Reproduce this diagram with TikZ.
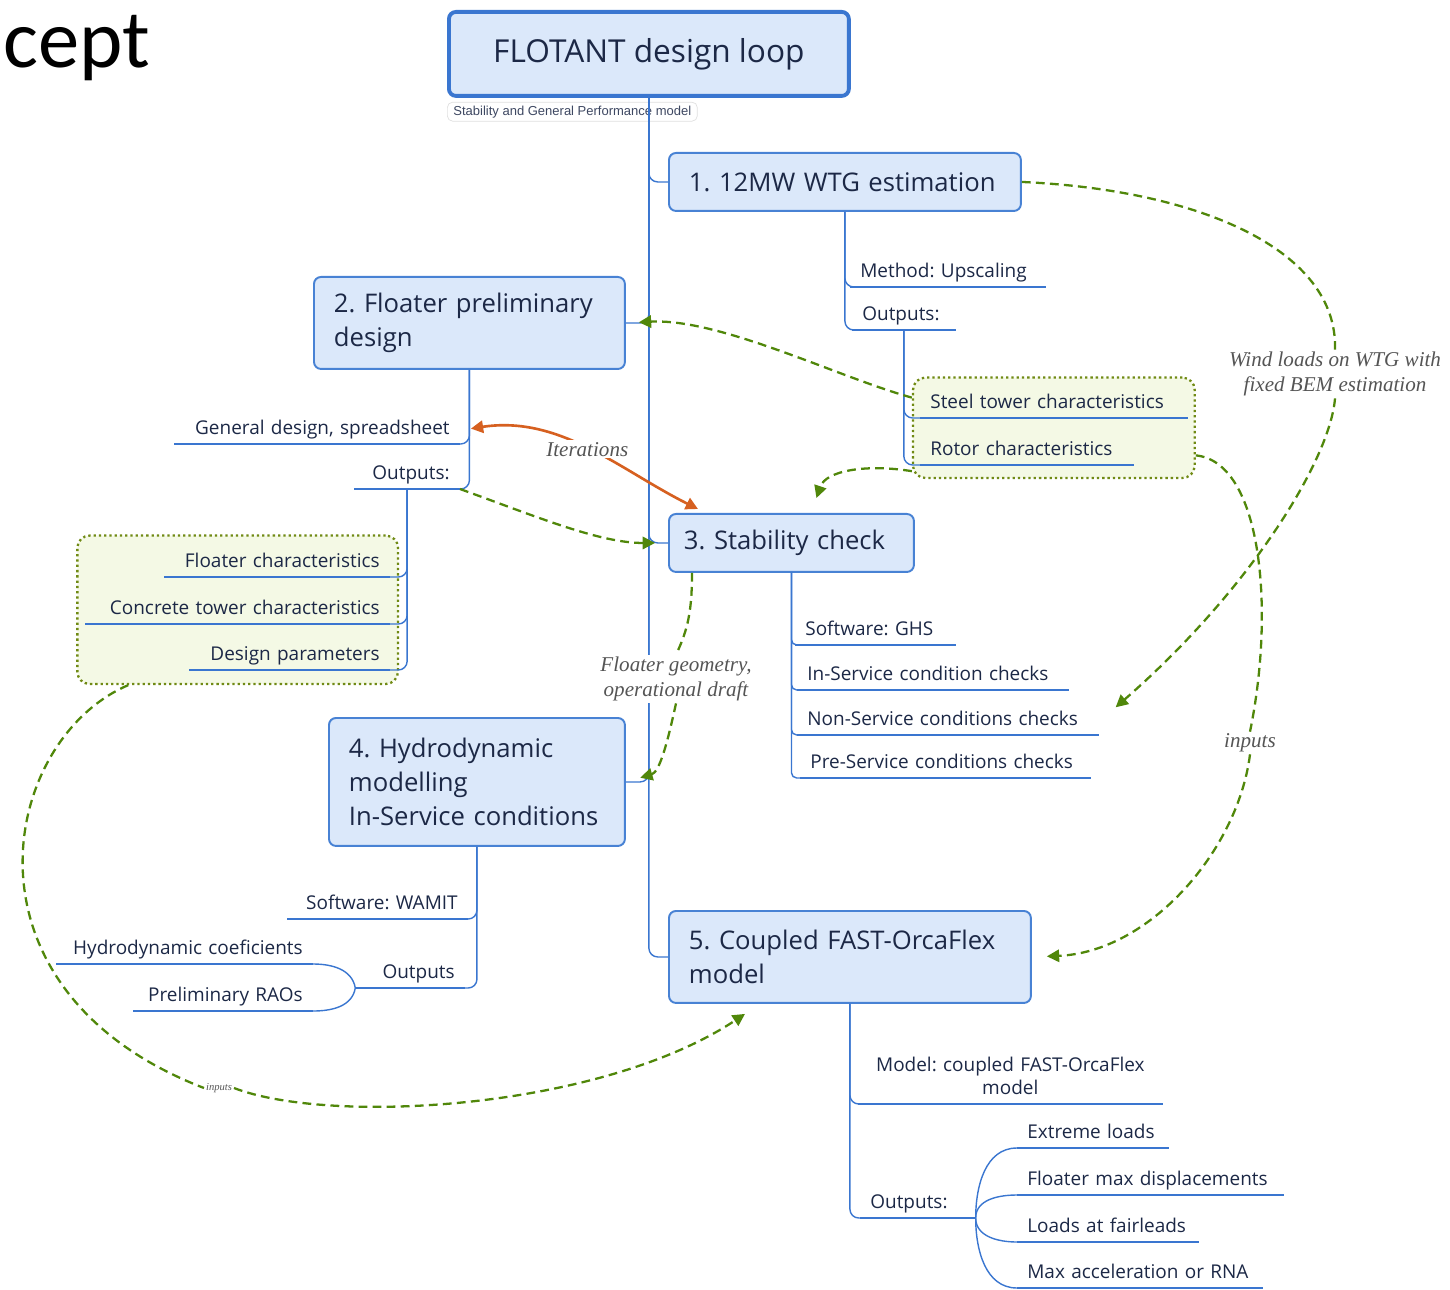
\documentclass[tikz,border=0pt]{standalone}
\usepackage{fontspec}
\usepackage{xcolor}
\usepackage{tikz}
\usetikzlibrary{arrows.meta, positioning, calc, fit, backgrounds}
\newfontfamily\mapfont{Open Sans}
\newfontfamily\notefont{Liberation Serif}
\newfontfamily\tagfont{Liberation Sans}
\newfontfamily\slidefont{Carlito}
\frenchspacing
\definecolor{mapink}{RGB}{28,40,70}
\definecolor{mapblue}{RGB}{58,118,208}
\definecolor{boxfill}{RGB}{219,232,250}
\definecolor{boxline}{RGB}{72,130,212}
\definecolor{linkgreen}{RGB}{80,135,10}
\definecolor{grpfill}{RGB}{244,249,229}
\definecolor{grpline}{RGB}{112,138,20}
\definecolor{iterorange}{RGB}{214,96,32}
\definecolor{notegray}{RGB}{85,85,85}

\begin{document}
\begin{tikzpicture}[
    x=0.02cm, y=-0.02cm, % one unit = one pixel of the layout
    >={Triangle[length=7pt,width=7pt]},
    topic/.style={rectangle, rounded corners=4pt, draw=boxline, fill=boxfill, line width=1.1pt,
                  text=mapink, align=left, anchor=north west, inner xsep=0.4cm,
                  font=\mapfont\fontsize{14.6}{19.3}\selectfont},
    tag/.style={rectangle, rounded corners=3pt, draw=black!12, fill=white, text=mapink!85,
                minimum width=5cm, minimum height=0.38cm, inner sep=1pt,
                font=\tagfont\fontsize{7.4}{8}\selectfont},
    uline/.style={draw=mapblue, line width=1.6pt},
    leaf/.style={font=\mapfont\fontsize{10.8}{13.4}\selectfont, text=mapink, inner xsep=0.2cm,
                 inner ysep=2pt, text depth=3pt,
                 append after command={(\tikzlastnode.south west) edge[uline] (\tikzlastnode.south east)}},
    leafR/.style={leaf, anchor=south west, align=left, text width=#1},
    leafL/.style={leaf, anchor=south east, align=right, text width=#1},
    branch/.style={draw=mapblue, line width=0.8pt, rounded corners=5pt},
    group/.style={draw=grpline, fill=grpfill, line width=1.3pt, dash pattern=on 1.3pt off 1.7pt,
                  rounded corners=7pt},
    flow/.style={draw=linkgreen, line width=1.3pt, dash pattern=on 5pt off 3pt},
    iter/.style={draw=iterorange, line width=1.5pt},
    note/.style={font=\notefont\itshape\fontsize{12}{14.5}\selectfont, text=notegray,
                 align=center, fill=white, inner sep=1pt}
]
\useasboundingbox (0,0) rectangle (1450,1290);

\node[anchor=base west, inner sep=0, font=\slidefont\fontsize{47}{56}\selectfont] (slide) at (3,68) {cept};

% root and main topics
\node[topic, draw=mapblue, line width=2.2pt, minimum width=8cm, minimum height=1.68cm, align=center,
      font=\mapfont\fontsize{18}{22}\selectfont] (hdr) at (447,10) {FLOTANT design loop};
\node[tag, below=0.08cm of hdr.south west, anchor=north west] (tagline) {Stability and General Performance model};

\node[topic, text width=6.24cm, minimum height=1.16cm] (b1) at (668,152) {1. 12MW WTG estimation};
\node[topic, text width=5.42cm, minimum height=1.84cm] (b2) at (313,276) {2. Floater preliminary\\design};
\node[topic, text width=4.3cm, inner xsep=0.3cm, minimum height=1.16cm] (b3) at (668,513) {3. Stability check};
\node[topic, text width=5.12cm, minimum height=2.56cm] (b4) at (328,717) {4. Hydrodynamic\\modelling\\In-Service conditions};
\node[topic, text width=6.44cm, minimum height=1.84cm] (b5) at (668,910) {5. Coupled FAST-OrcaFlex\\model};

% leaves of 1
\node[leafR=3.5cm]  (method) at (850,287) {Method: Upscaling};
\node[leafR=1.66cm] (out1)   at (852,330) {Outputs:};
\node[leafR=4.94cm] (steel)  at (920,418) {Steel tower characteristics};
\node[leafR=3.86cm] (rotor)  at (920,465) {Rotor characteristics};
% leaves of 2
\node[leafL=5.3cm]  (gen)    at (460,444) {General design, spreadsheet};
\node[leafL=1.7cm]  (out2)   at (460,489) {Outputs:};
\node[leafL=4.1cm]  (fltc)   at (390,577) {Floater characteristics};
\node[leafL=5.68cm] (conc)   at (390,624) {Concrete tower characteristics};
\node[leafL=3.6cm]  (dpar)   at (390,670) {Design parameters};
% leaves of 3
\node[leafR=2.8cm]  (ghs)    at (795,645) {Software: GHS};
\node[leafR=5.02cm] (insrv)  at (797,690) {In-Service condition checks};
\node[leafR=5.62cm] (nonsrv) at (797,735) {Non-Service conditions checks};
\node[leafR=5.4cm]  (presrv) at (800,778) {Pre-Service conditions checks};
% leaves of 4
\node[leafL=3.2cm]  (wamit)  at (468,919) {Software: WAMIT};
\node[leafL=1.54cm] (out4)   at (465,988) {Outputs};
\node[leafL=4.72cm] (hydc)   at (313,964) {Hydrodynamic coeficients};
\node[leafL=3.18cm] (rao)    at (313,1011) {Preliminary RAOs};
% leaves of 5
\node[leafR=5.68cm, align=center, text depth=16.4pt] (model) at (858,1104) {Model: coupled FAST-OrcaFlex\\model};
\node[leafR=1.6cm]  (out5)   at (860,1218) {Outputs:};
\node[leafR=2.62cm] (extreme) at (1017,1148) {Extreme loads};
\node[leafR=4.92cm] (fmax)   at (1017,1195) {Floater max displacements};
\node[leafR=3.22cm] (fairl)  at (1017,1242) {Loads at fairleads};
\node[leafR=4.5cm]  (maxacc) at (1017,1288) {Max acceleration or RNA};

\begin{scope}[on background layer]
  \node[group, fit=(steel)(rotor), inner xsep=0.14cm, inner ysep=0.26cm] (grpA) {};
  \node[group, fit=(fltc)(conc)(dpar), inner xsep=0.16cm, inner ysep=0.28cm] (grpB) {};
\end{scope}

% trunk and branches
\draw[branch] (hdr.south) |- (b5.west);
\foreach \t in {b1, b3} \draw[branch] (hdr.south) |- (\t.west);
\foreach \t in {b2, b4} \draw[branch] (hdr.south) |- (\t.east);
\foreach \l in {method, out1} \draw[branch] (b1.south) |- (\l.south west);
\foreach \l in {steel, rotor} \draw[branch] (out1.south) |- (\l.south west);
\foreach \l in {gen, out2} \draw[branch] (b2.south) |- (\l.south east);
\foreach \l in {fltc, conc, dpar} \draw[branch] (out2.south) |- (\l.south east);
\foreach \l in {ghs, insrv, nonsrv, presrv} \draw[branch, rounded corners=3pt] (b3.south) |- (\l.south west);
\foreach \l in {wamit, out4} \draw[branch] (b4.south) |- (\l.south east);
\draw[branch] (out4.south west) -- ++(-12,0) coordinate (o4k);
\draw[branch] (o4k) to[out=100,in=0] (hydc.south east);
\draw[branch] (o4k) to[out=-100,in=0] (rao.south east);
\foreach \l in {model, out5} \draw[branch] (b5.south) |- (\l.south west);
\draw[branch] (out5.south east) -- ++(15,0) coordinate (o5k);
\foreach \l in {extreme, fmax} \draw[branch] (o5k) to[out=90,in=180] (\l.south west);
\foreach \l in {fairl, maxacc} \draw[branch] (o5k) to[out=-90,in=180] (\l.south west);

% link labels
\node[note] (wind) at (1335,374) {Wind loads on WTG with\\fixed BEM estimation};
\node[note] (inp) at (1250,743) {inputs};
\node[note] (fgeo) at (676,679) {Floater geometry,\\operational draft};
\node[note, font=\notefont\itshape\fontsize{6}{7}\selectfont] (inpsmall) at (219,1088) {inputs};

% data links
\draw[flow] (b1.east) .. controls (1200,190) and (1338,250) .. (wind.north);
\draw[flow, ->] (wind.south) .. controls (1330,460) and (1250,590) .. ($(nonsrv.east)+(17,-14)$);
\draw[flow, ->, shorten >=0.26cm] (grpA.168) .. controls (840,378) and (720,318) .. (b2.east);
\draw[flow, ->] (grpA.197) .. controls (868,464) and (826,470) .. ($(b3.north)+(25,-15)$);
\draw[flow] (grpA.-11) .. controls (1262,462) and (1275,610) .. (inp.north);
\draw[flow, ->, shorten >=0.3cm] (inp.south) .. controls (1238,850) and (1150,952) .. (b5.east);
\draw[flow, ->, shorten >=0.26cm] (out2.south east) .. controls (540,518) and (600,543) .. (b3.west);
\draw[flow] ($(b3.south west)+(24,0)$) .. controls (692,610) and (688,630) .. (fgeo.north);
\draw[flow, ->, shorten >=0.3cm] (fgeo.south) .. controls (668,740) and (660,772) .. (b4.east);
\draw[flow] ($(grpB.south west)+(52,0)$) .. controls (0,740) and (-50,990) .. (inpsmall.west);
\draw[flow, ->] (inpsmall.east) .. controls (330,1125) and (600,1110) .. ($(b5.south west)+(77,10)$);

\draw[iter, <->, shorten <=0.22cm] (gen.east) .. controls (560,415) and (620,470)
    .. ($(b3.north west)+(30,-4)$) node[pos=0.5, note] (iterlbl) {Iterations};
\end{tikzpicture}
\end{document}
